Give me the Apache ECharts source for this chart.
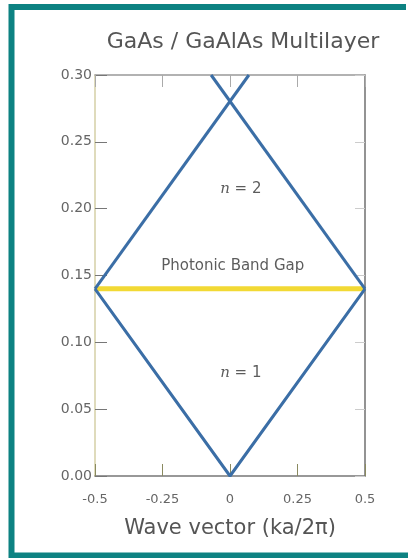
<!DOCTYPE html>
<html>
<head>
<meta charset="utf-8">
<script src="https://cdn.jsdelivr.net/npm/echarts@6/dist/echarts.min.js"></script>
<style>
  html, body { margin: 0; padding: 0; background: #fff; }
  #chart { width: 408px; height: 558px; }
</style>
</head>
<body>
<div id="chart"></div>
<script>
// Photonic band structure of a GaAs / GaAlAs multilayer (first Brillouin zone)
const titleText = 'GaAs / GaAlAs Multilayer';
const xAxisName = 'Wave vector (ka/2\u03c0)';
const xTicks = [-0.5, -0.25, 0, 0.25, 0.5];
const yTicks = [0, 0.05, 0.10, 0.15, 0.20, 0.25, 0.30];

// Band n = 1 (folded light line)
const band1 = [[-0.5, 0.14], [0, 0.0], [0.5, 0.14]];
// Band n = 2, two branches crossing at the zone centre
const band2a = [[-0.5, 0.14], [0.07, 0.30]];
const band2b = [[0.5, 0.14], [-0.07, 0.30]];
// Photonic band gap edge
const gapLine = [[-0.5, 0.14], [0.5, 0.14]];
// Annotations in data space
const noteLabels = ['{i|n} = 2', 'Photonic Band Gap', '{i|n} = 1'];
const noteX = [0.04, 0.01, 0.04];
const noteY = [0.215, 0.157, 0.077];

const chart = echarts.init(document.getElementById('chart'));
const font = '"DejaVu Sans", sans-serif';
const blue = '#3b6ea6';

const lineSeries = (data, color, width, z) => ({
  type: 'line', data: data, symbol: 'none', silent: true, z: z,
  lineStyle: { color: color, width: width }, animation: false
});

chart.setOption({
  animation: false,
  title: {
    text: titleText, left: 238, top: 26, textAlign: 'center',
    textStyle: { fontFamily: font, fontSize: 22, fontWeight: 'normal', color: '#555' }
  },
  grid: { left: 95, right: 43, top: 75, bottom: 82 },
  xAxis: [{
    type: 'value', min: -0.5, max: 0.5, interval: 0.25,
    name: xAxisName, nameLocation: 'middle', nameGap: 42,
    nameTextStyle: { fontFamily: font, fontSize: 21, color: '#555' },
    axisLine: { onZero: false, lineStyle: { color: '#777', width: 1.5 } },
    axisTick: { inside: true, length: 12, lineStyle: { color: '#8a8a60' } },
    axisLabel: { fontFamily: font, fontSize: 13, color: '#666', margin: 17,
      formatter: v => (v === 0 ? '0' : String(v)) },
    splitLine: { show: false }
  }, {
    type: 'value', min: -0.5, max: 0.5, interval: 0.25, position: 'top',
    axisLine: { onZero: false, lineStyle: { color: '#999', width: 1.5 } },
    axisTick: { inside: true, length: 12, lineStyle: { color: '#aaa' } },
    axisLabel: { show: false }, splitLine: { show: false }
  }],
  yAxis: [{
    type: 'value', min: 0, max: 0.3, interval: 0.05,
    axisLine: { show: true, onZero: false, lineStyle: { color: '#d4cfa6', width: 1.5 } },
    axisTick: { show: true, inside: true, length: 12, lineStyle: { color: '#777' } },
    axisLabel: { fontFamily: font, fontSize: 14, color: '#666', margin: 3,
      formatter: v => v.toFixed(2) },
    splitLine: { show: false }
  }, {
    type: 'value', min: 0, max: 0.3, interval: 0.05, position: 'right',
    axisLine: { show: true, onZero: false, lineStyle: { color: '#6f6f6f', width: 1.5 } },
    axisTick: { show: true, inside: true, length: 10, lineStyle: { color: '#ccc' } },
    axisLabel: { show: false }, splitLine: { show: false }
  }],
  series: [
    lineSeries(gapLine, '#f2d934', 5, 3),
    lineSeries(band1, blue, 3, 4),
    lineSeries(band2a, blue, 3, 4),
    lineSeries(band2b, blue, 3, 4),
    {
      type: 'scatter', silent: true, symbolSize: 0, z: 5,
      data: noteLabels.map((t, i) => ({ value: [noteX[i], noteY[i]], name: t })),
      label: {
        show: true, position: 'inside', formatter: p => p.name,
        fontFamily: font, fontSize: 15, color: '#333',
        rich: { i: { fontFamily: '"DejaVu Serif", serif', fontSize: 15, fontStyle: 'italic', color: '#333' } }
      }
    }
  ],
  graphic: [{
    type: 'polyline', silent: true, z: 100,
    shape: { points: [[406, 7], [11.5, 7], [11.5, 555.5], [408, 555.5]] },
    style: { stroke: '#0d8282', lineWidth: 6, fill: null }
  }]
});
</script>
</body>
</html>
